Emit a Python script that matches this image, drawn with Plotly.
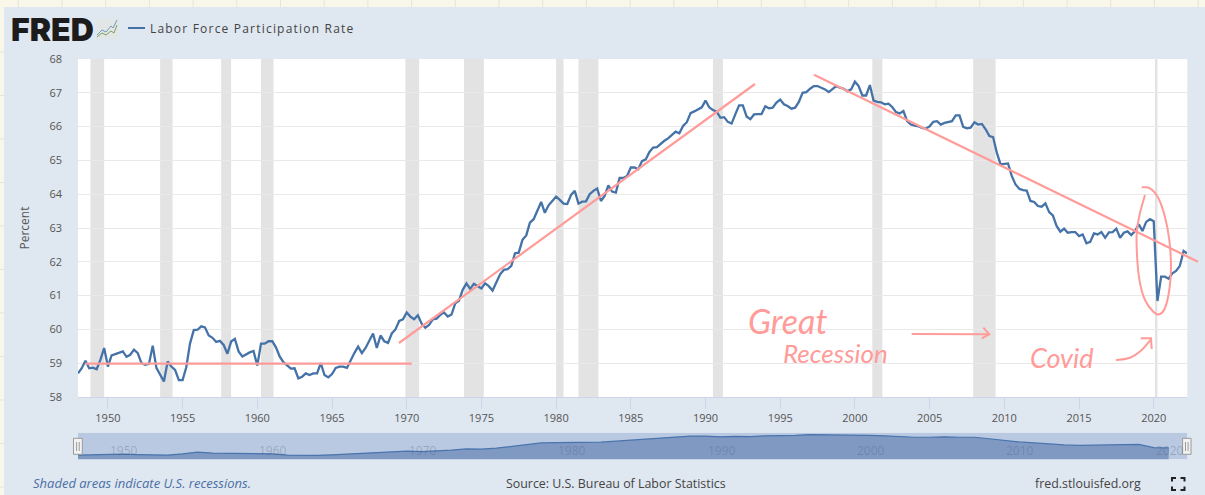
import pandas as pd
import plotly.graph_objects as go

W, H = 1205, 495

# ---- data (quarterly, percent) ----
lfpr_1948_1959 = [58.7, 58.85, 59.07, 58.85, 58.87, 58.82, 59.1, 59.45, 58.9, 59.23, 59.27, 59.3,
                  59.35, 59.19, 59.25, 59.4, 59.3, 59.0, 58.95, 58.98, 59.52, 58.86, 58.66, 58.46,
                  59.05, 58.9, 58.8, 58.5, 58.5, 58.88, 59.58, 59.98, 59.99, 60.09, 60.06, 59.82,
                  59.75, 59.63, 59.66, 59.54, 59.28, 59.64, 59.72, 59.35, 59.2, 59.27, 59.32, 59.36]
lfpr_1960_1969 = [58.93, 59.58, 59.58, 59.65, 59.65, 59.47, 59.2, 59.03, 58.93, 58.84, 58.85, 58.55,
                  58.6, 58.7, 58.65, 58.7, 58.7, 59.0, 58.65, 58.58, 58.68, 58.86, 58.9, 58.9,
                  58.86, 59.1, 59.3, 59.49, 59.3, 59.45, 59.68, 59.88, 59.45, 59.82, 59.65, 59.6,
                  59.88, 60.0, 60.25, 60.3]
lfpr_1970_1979 = [60.5, 60.38, 60.3, 60.42, 60.17, 60.05, 60.13, 60.3, 60.32, 60.43, 60.5, 60.38,
                  60.44, 60.77, 60.85, 61.17, 61.36, 61.2, 61.35, 61.28, 61.21, 61.36, 61.28, 61.15,
                  61.38, 61.63, 61.76, 61.78, 61.88, 62.25, 62.27, 62.65, 62.78, 63.16, 63.26, 63.5,
                  63.77, 63.45, 63.67, 63.8]
lfpr_1980_1989 = [63.93, 63.83, 63.72, 63.71, 63.98, 64.1, 63.72, 63.78, 63.79, 64.0, 64.1, 64.17,
                  63.8, 63.95, 64.26, 64.08, 64.05, 64.48, 64.48, 64.54, 64.79, 64.79, 64.74, 64.98,
                  65.03, 65.25, 65.38, 65.39, 65.5, 65.58, 65.65, 65.75, 65.85, 65.8, 66.02, 66.13,
                  66.4, 66.45, 66.5, 66.57]
lfpr_1990_1999 = [66.77, 66.57, 66.49, 66.44, 66.26, 66.28, 66.14, 66.09, 66.37, 66.63, 66.63, 66.3,
                  66.22, 66.36, 66.37, 66.37, 66.6, 66.54, 66.56, 66.71, 66.8, 66.66, 66.61, 66.53,
                  66.56, 66.73, 67.0, 67.02, 67.12, 67.2, 67.2, 67.15, 67.1, 67.02, 67.1, 67.2,
                  67.15, 67.12, 67.05, 67.1]
lfpr_2000_2009 = [67.33, 67.2, 66.92, 66.92, 67.23, 66.77, 66.73, 66.72, 66.66, 66.68, 66.58, 66.43,
                  66.39, 66.46, 66.16, 66.06, 66.03, 66.01, 65.96, 65.94, 66.01, 66.14, 66.16, 66.06,
                  66.11, 66.14, 66.16, 66.33, 66.33, 65.99, 65.95, 65.97, 66.13, 66.06, 66.08, 65.92,
                  65.72, 65.69, 65.23, 64.88]
lfpr_2010_2022 = [64.9, 64.91, 64.54, 64.29, 64.16, 64.12, 64.11, 63.8, 63.77, 63.65, 63.63, 63.73,
                  63.47, 63.37, 63.06, 62.89, 62.98, 62.86, 62.88, 62.88, 62.76, 62.81, 62.55, 62.59,
                  62.84, 62.81, 62.88, 62.71, 62.87, 62.88, 62.98, 62.71, 62.86, 62.9, 62.79, 62.91,
                  63.11, 62.91, 63.18, 63.26, 63.2, 60.84, 61.56, 61.56, 61.5, 61.66, 61.73, 61.88,
                  62.32, 62.25]
last_date = "2022-03-25"

# overview strip: yearly values, 1948-2021
overview_start_year = 1948
overview_values = [58.8, 58.9, 59.2, 59.2, 59.0, 58.9, 58.8, 59.3, 60.0, 59.6, 59.5, 59.3,
                   59.4, 59.3, 58.8, 58.7, 58.7, 58.9, 59.2, 59.6, 59.6, 60.1,
                   60.4, 60.2, 60.4, 60.8, 61.3, 61.2, 61.6, 62.3, 63.2, 63.7,
                   63.8, 63.9, 64.0, 64.0, 64.4, 64.8, 65.3, 65.6, 65.9, 66.5,
                   66.5, 66.2, 66.4, 66.3, 66.6, 66.6, 66.8, 67.1, 67.1, 67.1,
                   67.1, 66.8, 66.6, 66.2, 66.0, 66.0, 66.2, 66.0, 66.0, 65.4,
                   64.7, 64.1, 63.7, 63.2, 62.9, 62.7, 62.8, 62.9, 62.9, 63.1,
                   61.8, 61.7]

recession_starts = ["1948-11-01", "1953-07-01", "1957-08-01", "1960-04-01", "1969-12-01", "1973-11-01",
                    "1980-01-01", "1981-07-01", "1990-07-01", "2001-03-01", "2007-12-01", "2020-02-01"]
recession_ends = ["1949-10-01", "1954-05-01", "1958-04-01", "1961-02-01", "1970-11-01", "1975-03-01",
                  "1980-07-01", "1982-11-01", "1991-03-01", "2001-11-01", "2009-06-01", "2020-04-01"]

overview_labels = [1950, 1960, 1970, 1980, 1990, 2000, 2010, 2020]

series_name = "Labor Force Participation Rate"
y_title = "Percent"
note_text = "Shaded areas indicate U.S. recessions."
source_text = "Source: U.S. Bureau of Labor Statistics"
site_text = "fred.stlouisfed.org"

# ---- helpers ----
def fx(px): return px / W
def fy(py): return 1 - py / H
def sx(v): return f"{fx(v):.5f}"
def sy(v): return f"{fy(v):.5f}"

PANEL = "#dfe7f0"
CREAM = "#f9f6ea"
CREAM_LINE = "#e9e5d3"
PINK = "#ff9b99"
BLUE = "#4572a7"

def line_path(pts):
    return "M" + " L".join(f"{sx(a)},{sy(b)}" for a, b in pts)

def smooth_path(pts):
    # Catmull-Rom through the hand-stroke waypoints
    d = f"M{sx(pts[0][0])},{sy(pts[0][1])}"
    n = len(pts)
    for i in range(n - 1):
        p0 = pts[max(i - 1, 0)]; p1 = pts[i]; p2 = pts[i + 1]; p3 = pts[min(i + 2, n - 1)]
        c1 = (p1[0] + (p2[0] - p0[0]) / 6, p1[1] + (p2[1] - p0[1]) / 6)
        c2 = (p2[0] - (p3[0] - p1[0]) / 6, p2[1] - (p3[1] - p1[1]) / 6)
        d += f" C{sx(c1[0])},{sy(c1[1])} {sx(c2[0])},{sy(c2[1])} {sx(p2[0])},{sy(p2[1])}"
    return d

def stroke(path, color=PINK, width=2.0, layer="above"):
    return dict(type="path", xref="paper", yref="paper", path=path, layer=layer,
                line=dict(color=color, width=width))

def box(x0, y0, x1, y1, fill, line=None, layer="above", lw=1):
    return dict(type="rect", xref="paper", yref="paper", x0=fx(x0), x1=fx(x1), y0=fy(y1), y1=fy(y0),
                fillcolor=fill, line=dict(color=line or fill, width=lw if line else 0), layer=layer)

def label(px, py, text, size=11, color="#555555", anchor="left", family="Open Sans", **kw):
    return dict(xref="paper", yref="paper", x=fx(px), y=fy(py), text=text, showarrow=False,
                xanchor=anchor, yanchor="middle", font=dict(family=family, size=size, color=color, **kw))

# ---- data assembly ----
values = (lfpr_1948_1959 + lfpr_1960_1969 + lfpr_1970_1979 + lfpr_1980_1989 +
          lfpr_1990_1999 + lfpr_2000_2009 + lfpr_2010_2022)
dates = list(pd.date_range("1948-01-01", periods=len(values) - 1, freq="QS").strftime("%Y-%m-%d")) + [last_date]
overview_dates = [f"{overview_start_year + i}-01-01" for i in range(len(overview_values))]

X_RANGE = ["1948-01-01", "2022-04-01"]
L, R, T, B = 78, 1187.3, 59, 397
NT, NB = 432.7, 459.3

fig = go.Figure()
fig.add_trace(go.Scatter(x=dates, y=values, mode="lines", name=series_name, showlegend=False,
                         line=dict(color=BLUE, width=2.3), xaxis="x", yaxis="y", hoverinfo="x+y"))
fig.add_trace(go.Scatter(x=overview_dates, y=overview_values, mode="lines", fill="tozeroy", showlegend=False,
                         name="overview", line=dict(color="#4a74ad", width=1.2),
                         fillcolor="rgba(69,106,165,0.50)", xaxis="x2", yaxis="y2", hoverinfo="skip"))

shapes = []
# notebook page around the screenshot
shapes.append(box(-2, -2, 4, H + 2, CREAM, layer="below"))
shapes.append(box(-2, -2, W + 2, 7, CREAM, layer="below"))
for i in range(28):
    x = 18.3 + 43.7 * i
    shapes.append(dict(type="line", xref="paper", yref="paper", x0=fx(x), x1=fx(x), y0=fy(7), y1=1,
                       line=dict(color=CREAM_LINE, width=1), layer="below"))
for i in range(11):
    y = 52 + 43.5 * i
    shapes.append(dict(type="line", xref="paper", yref="paper", x0=0, x1=fx(4), y0=fy(y), y1=fy(y),
                       line=dict(color=CREAM_LINE, width=1), layer="below"))
# recession bands
for s, e in zip(recession_starts, recession_ends):
    shapes.append(dict(type="rect", xref="x", yref="y domain", x0=s, x1=e, y0=0, y1=1,
                       fillcolor="#e3e3e3", line=dict(width=0), layer="below"))
# overview background
shapes.append(dict(type="rect", xref="x2 domain", yref="y2 domain", x0=0, x1=1, y0=0, y1=1,
                   fillcolor="#b9c9e1", line=dict(width=0), layer="below"))
# overview handles
for a, b in ((73.5, 82.3), (1182.6, 1191)):
    shapes.append(box(a, 438.3, b, 454.3, "#f2f2f2", "#9a9a9a"))
    m = (a + b) / 2
    for d in (-1.3, 1.3):
        shapes.append(stroke(line_path([(m + d, 442), (m + d, 451)]), "#9a9a9a", 1))
# logo mark
shapes.append(box(96, 19, 118, 39, "#e3e6e6"))
shapes.append(stroke(line_path([(97, 35), (102, 30), (106, 32), (111, 26), (113, 28), (117, 20)]), "#6f9cb8", 1))
shapes.append(stroke(line_path([(97, 37), (102, 33), (106, 35), (111, 31), (114, 33), (117, 25)]), "#7da35c", 1))
# legend key
shapes.append(stroke(line_path([(128, 28), (145, 28)]), BLUE, 2))
# full-screen icon
for cx, cy, dx, dy in ((1172, 478, 1, 1), (1184.5, 478, -1, 1), (1172, 490, 1, -1), (1184.5, 490, -1, -1)):
    shapes.append(stroke(line_path([(cx + 4 * dx, cy), (cx, cy), (cx, cy + 3.5 * dy)]), "#222222", 2))
# hand-drawn trend lines
shapes.append(stroke(line_path([(85.3, 363.6), (411.7, 363.6)]), PINK, 2.2))
shapes.append(stroke(line_path([(399, 343), (755, 84)]), PINK, 2.2))
shapes.append(stroke(line_path([(814, 74.7), (1198, 261.7)]), PINK, 2.2))
# hand-drawn loop round the 2020 drop
loop = [(1145, 195), (1140, 213), (1136.7, 233), (1137.3, 260), (1140, 283), (1145, 300), (1153.3, 311.7),
        (1159.3, 314.3), (1165, 308), (1169.3, 290), (1171, 267), (1169.3, 240), (1165, 217),
        (1158.3, 198), (1150, 188.3), (1141.7, 187.3)]
shapes.append(stroke(smooth_path(loop), PINK, 2))
# hand-drawn arrows
shapes.append(stroke(line_path([(911.7, 334), (989.3, 334.3)]), PINK, 2))
shapes.append(stroke(line_path([(983.3, 327.7), (989.3, 334.3), (981.7, 338.3)]), PINK, 2))
shapes.append(stroke(smooth_path([(1116, 360), (1130, 357.7), (1141.7, 350), (1151, 339.3)]), PINK, 2))
shapes.append(stroke(line_path([(1140.7, 338.3), (1151, 338.3), (1151.7, 349)]), PINK, 2))

annotations = [
    label(9, 29.5, "FRED", size=32, color="#1c1c1c", family="Inter", weight=900),
    label(166, 28.5, series_name, size=12, color="#444444", weight=500),
    label(31, 483, note_text, size=13, color="#4a6fa5", style="italic"),
    label(504, 483, source_text, size=12.4, color="#444444"),
    label(1033, 483, site_text, size=12.4, color="#444444"),
    label(746, 320, "Great", size=34, color=PINK, family="Lato", style="italic"),
    label(781, 353, "Recession", size=26, color=PINK, family="Lato", style="italic"),
    label(1028, 357, "Covid", size=27, color=PINK, family="Lato", style="italic"),
]
for yr in overview_labels:
    annotations.append(dict(xref="x2", yref="paper", x=f"{yr}-01-01", xshift=16, y=fy(450.7), text=str(yr),
                            showarrow=False, xanchor="center", yanchor="middle",
                            font=dict(family="Open Sans", size=12, color="rgba(70,80,100,0.28)")))

fig.update_layout(
    width=W, height=H, autosize=False,
    margin=dict(l=0, r=0, t=0, b=0, autoexpand=False),
    paper_bgcolor=PANEL, plot_bgcolor="#ffffff",
    showlegend=False, shapes=shapes, annotations=annotations,
    font=dict(family="Open Sans", size=11, color="#555555"),
    xaxis=dict(domain=[fx(L), fx(R)], range=X_RANGE, type="date", dtick="M60", tick0="1950-01-01",
               tickformat="%Y", ticks="outside", ticklen=11, tickcolor="#ccd6eb", tickwidth=1,
               showline=True, linecolor="#ccd6eb", linewidth=1, showgrid=False, zeroline=False,
               tickfont=dict(family="Open Sans", size=11, color="#555555"), anchor="y"),
    yaxis=dict(domain=[fy(B), fy(T)], range=[58, 68], dtick=1, tick0=58, showgrid=True, gridcolor="#e9e9e9",
               gridwidth=1, zeroline=False, showline=False, ticks="", ticklabelstandoff=15,
               tickfont=dict(family="Open Sans", size=11, color="#555555"),
               title=dict(text=y_title, standoff=17, font=dict(family="Open Sans", size=12, color="#555555")),
               anchor="x"),
    xaxis2=dict(domain=[fx(L), fx(R)], range=X_RANGE, type="date", visible=False, anchor="y2"),
    yaxis2=dict(domain=[fy(NB), fy(NT)], range=[57.08, 67.85], visible=False, anchor="x2"),
)

fig.write_html("out.html", config={"displayModeBar": False},
               post_script=("document.body.style.margin='0';document.body.style.overflow='hidden';"
                            "document.querySelectorAll('.annotation-text').forEach(function(t){"
                            "if(t.textContent==='" + series_name + "'){t.style.letterSpacing='1.2px';}});"))
